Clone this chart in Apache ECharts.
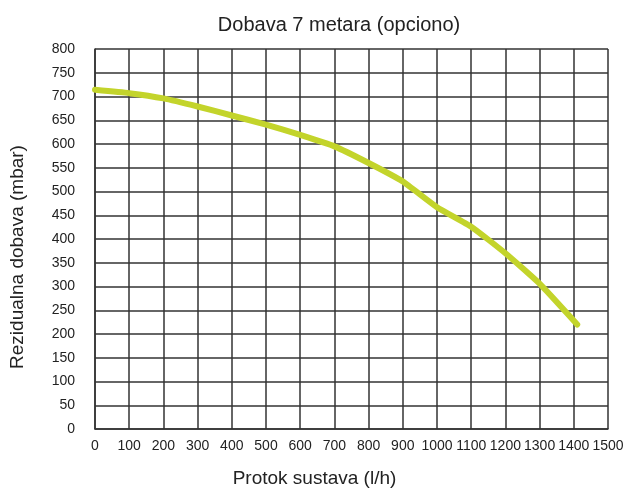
<!DOCTYPE html>
<html>
<head>
<meta charset="utf-8">
<script src="https://cdn.jsdelivr.net/npm/echarts@6/dist/echarts.min.js"></script>
<style>html,body{margin:0;padding:0;background:#fff;}#c{width:626px;height:493px;}</style>
</head>
<body>
<div id="c"></div>
<script>
const titleText = 'Dobava 7 metara (opciono)';
const xName = 'Protok sustava (l/h)';
const yName = 'Rezidualna dobava (mbar)';
const flow = [0, 100, 200, 300, 400, 500, 600, 700, 800, 900, 1000, 1100, 1200, 1300, 1410];
const pressure = [714, 707, 696, 679, 660, 641, 619, 595, 560, 521, 467, 426, 370, 306, 220];

const chart = echarts.init(document.getElementById('c'));
const labelFont = '"Liberation Sans Narrow", "Liberation Sans", Arial, sans-serif';
const textFont = '"Liberation Sans", Arial, sans-serif';
chart.setOption({
  animation: false,
  backgroundColor: '#fff',
  title: {
    text: titleText,
    left: 334, top: 10, textAlign: 'center',
    textStyle: { fontFamily: textFont, fontSize: 20, fontWeight: 'normal', color: '#222' }
  },
  grid: { left: 95, right: 18, top: 49, bottom: 64, outerBoundsMode: 'none', containLabel: false },
  xAxis: {
    type: 'value', min: 0, max: 1500, interval: 100,
    name: xName, nameLocation: 'middle', nameGap: 40,
    nameTextStyle: { fontFamily: textFont, fontSize: 19, color: '#222', padding: [0, 74, 0, 0] },
    axisLine: { show: true, lineStyle: { color: '#333', width: 1.5 } },
    axisTick: { show: false },
    axisLabel: { fontFamily: labelFont, fontSize: 14, color: '#222', margin: 10, formatter: v => String(v) },
    splitLine: { show: true, lineStyle: { color: '#333', width: 1.5 } }
  },
  yAxis: {
    type: 'value', min: 0, max: 800, interval: 50,
    name: yName, nameLocation: 'middle', nameGap: 68,
    nameTextStyle: { fontFamily: textFont, fontSize: 19, color: '#222', padding: [0, 36, 0, 0] },
    axisLine: { show: true, lineStyle: { color: '#333', width: 1.5 } },
    axisTick: { show: false },
    axisLabel: { fontFamily: labelFont, fontSize: 14, color: '#222', margin: 20, formatter: v => String(v) },
    splitLine: { show: true, lineStyle: { color: '#333', width: 1.5 } }
  },
  series: [{
    type: 'line',
    data: flow.map((x, i) => [x, pressure[i]]),
    showSymbol: false,
    smooth: 0.15,
    lineStyle: { color: '#c3d42b', width: 6, cap: 'round', join: 'round' }
  }]
});
</script>
</body>
</html>
